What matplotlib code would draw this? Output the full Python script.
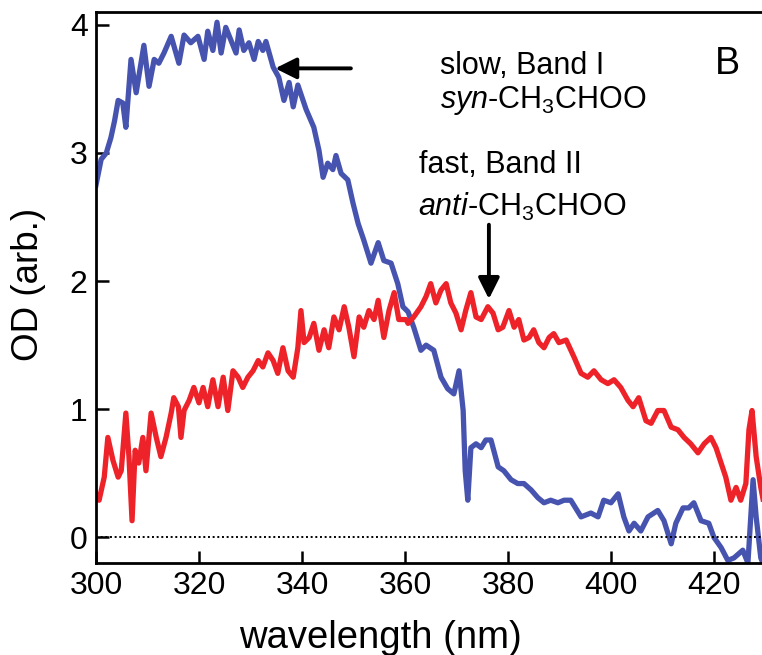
import matplotlib
matplotlib.use("Agg")
import matplotlib.pyplot as plt

plt.rcParams['font.family'] = ['Liberation Sans', 'DejaVu Sans']
plt.rcParams['mathtext.fontset'] = 'custom'
plt.rcParams['mathtext.rm'] = 'Liberation Sans'
plt.rcParams['mathtext.it'] = 'Liberation Sans:italic'

# ---- data ----
blue_wl = [300.0, 300.5, 301.0, 302.0, 302.9, 303.6, 304.3, 305.2, 305.8, 306.8,
           307.8, 309.3, 310.3, 311.3, 312.2, 313.2, 314.6, 316.1, 317.1, 318.4,
           319.8, 321.0, 321.7, 322.7, 323.5, 324.3, 325.2, 326.2, 327.2, 327.8,
           328.7, 329.7, 330.7, 331.5, 332.4, 333.0, 334.4, 335.5, 336.5, 337.5,
           338.3, 339.2, 340.8, 342.3, 343.3, 344.1, 345.0, 346.0, 346.6, 347.6,
           348.9, 349.9, 350.9, 352.0, 353.4, 354.8, 355.9, 357.3, 358.6, 359.6,
           360.6, 361.7, 363.1, 364.1, 365.6, 367.0, 368.3, 369.5, 370.5, 371.3,
           371.7, 372.2, 372.8, 373.8, 374.8, 375.7, 376.7, 378.1, 379.2, 380.6,
           381.9, 383.1, 384.5, 385.8, 387.0, 388.3, 389.7, 390.9, 392.2, 394.2,
           396.1, 397.5, 398.6, 400.0, 401.4, 402.5, 403.5, 404.5, 405.8, 407.2,
           409.1, 410.3, 411.7, 412.6, 414.0, 415.1, 416.1, 417.5, 419.0, 420.0,
           421.4, 422.7, 423.9, 425.6, 426.6, 427.6, 428.2, 429.1, 430.0]
blue_od = [2.75, 2.85, 2.95, 3.00, 3.12, 3.25, 3.41, 3.39, 3.20, 3.73,
           3.47, 3.84, 3.52, 3.73, 3.70, 3.78, 3.91, 3.70, 3.92, 3.86,
           3.91, 3.73, 3.95, 3.80, 4.02, 3.78, 3.98, 3.88, 3.78, 3.96,
           3.80, 3.86, 3.73, 3.87, 3.80, 3.87, 3.67, 3.59, 3.41, 3.55,
           3.36, 3.53, 3.34, 3.20, 3.02, 2.81, 2.92, 2.87, 2.98, 2.84,
           2.79, 2.61, 2.45, 2.32, 2.14, 2.30, 2.16, 2.14, 1.98, 1.80,
           1.76, 1.64, 1.46, 1.50, 1.46, 1.25, 1.16, 1.12, 1.30, 0.99,
           0.52, 0.29, 0.70, 0.73, 0.70, 0.76, 0.76, 0.55, 0.52, 0.45,
           0.42, 0.42, 0.37, 0.31, 0.27, 0.29, 0.27, 0.29, 0.29, 0.16,
           0.19, 0.16, 0.29, 0.27, 0.34, 0.16, 0.05, 0.11, 0.05, 0.16,
           0.21, 0.13, -0.05, 0.11, 0.23, 0.23, 0.27, 0.13, 0.11, 0.00,
           -0.08, -0.18, -0.16, -0.10, -0.20, 0.45, 0.16, -0.16, -0.25]

red_wl = [300.0, 300.6, 301.6, 302.3, 303.3, 304.3, 304.9, 305.8, 306.4, 307.0,
          307.6, 308.3, 309.1, 309.7, 310.7, 311.7, 312.6, 313.6, 314.6, 315.1,
          316.0, 316.5, 317.1, 318.1, 319.0, 320.0, 320.8, 321.7, 322.7, 323.7,
          324.7, 325.6, 326.6, 327.6, 328.5, 329.5, 330.5, 331.5, 332.4, 333.4,
          334.4, 335.3, 336.3, 337.3, 338.3, 339.2, 339.8, 340.4, 341.4, 342.3,
          343.3, 344.3, 345.2, 346.2, 347.2, 348.2, 349.1, 350.1, 351.1, 352.0,
          353.0, 354.0, 354.8, 355.9, 356.9, 357.9, 358.8, 360.2, 360.6, 361.7,
          363.1, 364.1, 365.0, 366.0, 367.0, 368.0, 368.9, 369.9, 370.9, 371.8,
          372.8, 373.8, 374.8, 376.1, 377.1, 378.1, 379.0, 380.2, 381.2, 382.1,
          383.1, 384.1, 385.0, 386.0, 387.0, 388.0, 388.9, 389.9, 391.3, 392.8,
          394.2, 395.5, 396.7, 398.1, 399.4, 400.6, 401.9, 403.3, 404.3, 405.4,
          406.8, 407.8, 409.1, 410.3, 411.7, 413.0, 414.2, 415.5, 416.9, 418.1,
          419.4, 420.4, 421.4, 422.3, 423.3, 424.3, 425.2, 426.2, 426.8, 427.4,
          428.2, 429.1, 430.0]
red_od = [0.34, 0.29, 0.47, 0.78, 0.60, 0.47, 0.52, 0.97, 0.63, 0.13,
          0.68, 0.58, 0.78, 0.52, 0.97, 0.78, 0.63, 0.78, 0.97, 1.09,
          1.02, 0.78, 0.99, 1.07, 1.17, 1.05, 1.17, 1.02, 1.23, 1.02,
          1.25, 0.99, 1.30, 1.25, 1.17, 1.25, 1.30, 1.38, 1.33, 1.44,
          1.38, 1.28, 1.48, 1.30, 1.25, 1.48, 1.77, 1.52, 1.56, 1.67,
          1.46, 1.62, 1.48, 1.72, 1.62, 1.80, 1.64, 1.41, 1.72, 1.64,
          1.77, 1.70, 1.85, 1.56, 1.77, 1.91, 1.70, 1.70, 1.67, 1.72,
          1.80, 1.88, 1.98, 1.83, 1.93, 1.98, 1.83, 1.75, 1.62, 1.77,
          1.91, 1.72, 1.70, 1.80, 1.75, 1.62, 1.64, 1.77, 1.64, 1.70,
          1.54, 1.56, 1.62, 1.52, 1.48, 1.56, 1.59, 1.52, 1.54, 1.41,
          1.28, 1.25, 1.30, 1.23, 1.20, 1.23, 1.17, 1.07, 1.02, 1.09,
          0.91, 0.89, 0.99, 0.99, 0.86, 0.84, 0.78, 0.73, 0.66, 0.73,
          0.78, 0.70, 0.58, 0.47, 0.29, 0.39, 0.29, 0.42, 0.84, 0.99,
          0.63, 0.39, 0.20]

x_ticks = [300, 320, 340, 360, 380, 400, 420]
y_ticks = [0, 1, 2, 3, 4]

W, H = 762, 655
fig = plt.figure(figsize=(W / 100, H / 100), dpi=100)
ax = fig.add_axes([96 / W, 1 - 563 / H, 672 / W, 551 / H])

blue = '#4654b0'
red = '#ee2229'
ax.plot(blue_wl, blue_od, color=blue, lw=3.8, solid_joinstyle='round')
ax.plot(red_wl, red_od, color=red, lw=3.8, solid_joinstyle='round')
ax.axhline(0, color='black', lw=1.4, ls=(0, (1, 1.4)))

ax.set_xlim(300, 430.5)
ax.set_ylim(-0.2, 4.1)
ax.set_xticks(x_ticks)
ax.set_yticks(y_ticks)
ax.tick_params(direction='in', length=9, width=1.8, labelsize=23, pad=6)
for s in ['left', 'bottom', 'top']:
    ax.spines[s].set_linewidth(2.0)
ax.spines['right'].set_visible(False)

ax.set_xlabel('wavelength (nm)', fontsize=27.5)
ax.xaxis.set_label_coords(0.423, -0.104, transform=ax.transAxes)
ax.xaxis.label.set_va('top')
ax.set_ylabel('OD (arb.)', fontsize=26.5)
ax.yaxis.set_label_coords(-0.074, 0.505, transform=ax.transAxes)

# annotations
ax.annotate('', xy=(334.8, 3.66), xytext=(349.5, 3.66),
            arrowprops=dict(arrowstyle='-|>', color='black', lw=2.8,
                            mutation_scale=32, shrinkA=0, shrinkB=0))
ax.annotate('', xy=(376.3, 1.86), xytext=(376.3, 2.44),
            arrowprops=dict(arrowstyle='-|>', color='black', lw=2.8,
                            mutation_scale=32, shrinkA=0, shrinkB=0))
ax.text(366.8, 3.62, 'slow, Band I', fontsize=22, ha='left', va='baseline')
ax.text(366.8, 3.35, r'$\it{syn}$-CH$_3$CHOO', fontsize=22, ha='left', va='baseline')
ax.text(362.8, 2.84, 'fast, Band II', fontsize=22, ha='left', va='baseline')
ax.text(362.6, 2.51, r'$\it{anti}$-CH$_3$CHOO', fontsize=22, ha='left', va='baseline')
ax.text(420.2, 3.62, 'B', fontsize=27, ha='left', va='baseline')

fig.savefig('out.png', dpi=100)
